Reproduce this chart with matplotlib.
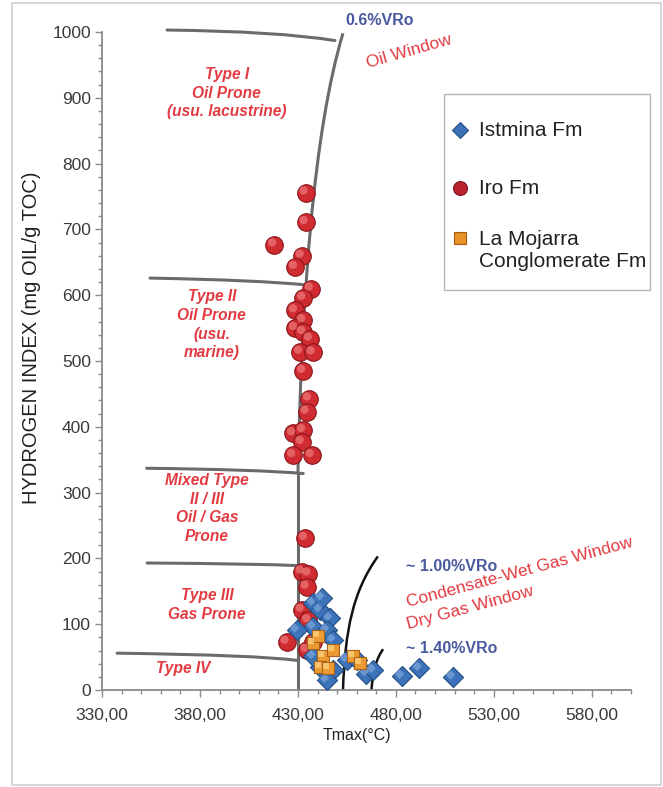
import matplotlib
matplotlib.use("Agg")
import matplotlib.pyplot as plt
from matplotlib.patches import Rectangle, PathPatch
from matplotlib.path import Path
from matplotlib.lines import Line2D
from matplotlib.ticker import MultipleLocator, FixedLocator, FixedFormatter
import matplotlib.transforms as mtransforms

plt.rcParams['font.family'] = ['Liberation Sans', 'DejaVu Sans']

# ---------------- data ----------------
iro_tmax = [433.9, 433.9, 417.9, 431.9, 428.5, 436.6, 432.7, 428.5, 432.7, 428.5,
            432.7, 436.1, 431.1, 437.5, 432.7, 435.6, 434.4, 427.6, 432.7, 431.9,
            427.6, 437.0, 433.6, 431.9, 435.3, 434.4, 431.9, 435.3, 424.2, 434.4,
            437.7, 441.2]
iro_hi = [756, 711, 677, 660, 643, 610, 596, 577, 562, 550,
          544, 534, 514, 513, 485, 443, 423, 390, 395, 377,
          357, 357, 231, 180, 177, 157, 122, 106, 73, 61,
          73, 46]

istmina_tmax = [437.8, 441.2, 442.2, 446.3, 437.7, 444.6, 429.3, 447.9, 441.2, 447.9,
                454.8, 459.9, 465.0, 468.4, 444.6, 437.7, 482.9, 491.9, 508.9]
istmina_hi = [132, 122, 140, 109, 96, 91, 91, 76, 35, 30,
              46, 46, 25, 30, 15, 51, 21, 33, 20]

mojarra_tmax = [437.7, 442.8, 441.2, 447.9, 458.1, 461.6, 440.2, 445.3]
mojarra_hi = [71, 51, 35, 61, 51, 41, 82, 33]

# kerogen type boundaries: (start, control, end) as (Tmax, HI)
top_line = [(363.2, 1003), (420, 1001), (448.9, 987)]
b12_line = [(354.5, 626), (410, 623), (434.4, 615.5)]
b2m_line = [(352.8, 337), (410, 335), (432.7, 329)]
bm3_line = [(353.0, 193), (410, 192), (430.0, 189)]
b34_line = [(337.7, 56), (410, 53), (429.5, 45)]

# 0.6 %VRo (oil window) line: straight base then cubic curve
ow_base = [(430, 0), (430, 330)]
ow_curve = [(430, 330), (432, 600), (438, 850), (453, 998)]

# ~1.00 %VRo and ~1.40 %VRo lines (cubic)
v100_curve = [(453, 0), (454, 90), (458, 150), (470.8, 203)]
v140_curve = [(467.5, 0), (468.5, 30), (470, 48), (473.5, 62)]

xticks = [330, 380, 430, 480, 530, 580]
xtick_labels = ["330,00", "380,00", "430,00", "480,00", "530,00", "580,00"]
yticks = [0, 100, 200, 300, 400, 500, 600, 700, 800, 900, 1000]

legend_labels = ['Istmina Fm', 'Iro Fm', 'La Mojarra\nConglomerate Fm']

# ---------------- figure ----------------
W, H = 663, 787
fig = plt.figure(figsize=(W/100, H/100), dpi=100)
ax = fig.add_axes([102/W, 1-690/H, (631-102)/W, (690-32)/H])
ax.set_xlim(330, 600)
ax.set_ylim(0, 1000)

for s in ['top', 'right']:
    ax.spines[s].set_visible(False)
for s in ['left', 'bottom']:
    ax.spines[s].set_color('#8a8a8a')
    ax.spines[s].set_linewidth(1.3)

ax.xaxis.set_major_locator(FixedLocator(xticks))
ax.xaxis.set_major_formatter(FixedFormatter(xtick_labels))
ax.xaxis.set_minor_locator(MultipleLocator(10))
ax.yaxis.set_major_locator(FixedLocator(yticks))
ax.yaxis.set_minor_locator(MultipleLocator(20))
ax.tick_params(which='both', colors='#8a8a8a', labelcolor='#3a3a3a', labelsize=12.5, width=1)
ax.tick_params(which='major', length=5)
ax.tick_params(which='minor', length=3)
ax.tick_params(axis='y', pad=3)
ax.tick_params(axis='x', pad=8)

ax.set_ylabel('HYDROGEN INDEX (mg OIL/g TOC)', fontsize=14.5, color='#222222')
ax.yaxis.set_label_coords(-0.115, 0.535)
ax.set_xlabel('Tmax(°C)', fontsize=11.5, color='#222222')
ax.xaxis.set_label_coords(0.482, -0.058)


def draw_path(pts, kind, **kw):
    if kind == 'line':
        codes = [Path.MOVETO] + [Path.LINETO] * (len(pts) - 1)
    elif kind == 'quad':
        codes = [Path.MOVETO, Path.CURVE3, Path.CURVE3]
    else:
        codes = [Path.MOVETO, Path.CURVE4, Path.CURVE4, Path.CURVE4]
    patch = PathPatch(Path(pts, codes), fill=False, transform=ax.transData,
                      clip_on=False, **kw)
    ax.add_patch(patch)
    return patch


gray = '#6b6b6b'
for ln in [top_line, b12_line, b2m_line, bm3_line, b34_line]:
    draw_path(ln, 'quad', edgecolor=gray, lw=2.2, capstyle='round', zorder=2)
draw_path(ow_base, 'line', edgecolor=gray, lw=2.2, zorder=2)
draw_path(ow_curve, 'cubic', edgecolor=gray, lw=2.2, zorder=2)
draw_path(v100_curve, 'cubic', edgecolor='#111111', lw=1.8, zorder=2)
draw_path(v140_curve, 'cubic', edgecolor='#111111', lw=1.8, zorder=2)

# markers with small highlight for a 3D look
hl = mtransforms.offset_copy(ax.transData, fig=fig, x=-1.5, y=1.5, units='points')
ax.scatter(istmina_tmax, istmina_hi, marker='D', s=105, color='#3c72b8',
           edgecolor='#234f85', linewidth=0.8, zorder=4)
ax.scatter(istmina_tmax, istmina_hi, marker='D', s=24, color='#7ea6dc',
           edgecolor='none', alpha=0.7, zorder=4.1, transform=hl)
ax.scatter(mojarra_tmax, mojarra_hi, marker='s', s=85, color='#ec9a32',
           edgecolor='#a8601a', linewidth=0.8, zorder=5)
ax.scatter(mojarra_tmax, mojarra_hi, marker='s', s=18, color='#f8cf7a',
           edgecolor='none', alpha=0.8, zorder=5.1, transform=hl)
ax.scatter(iro_tmax, iro_hi, marker='o', s=160, color='#cf2b31',
           edgecolor='#8a161b', linewidth=0.8, zorder=3)
ax.scatter(iro_tmax, iro_hi, marker='o', s=36, color='#ee7a7a',
           edgecolor='none', alpha=0.7, zorder=3.1, transform=hl)

# annotations
red = '#e23b42'
blue = '#4a5a9e'
tkw = dict(color=red, fontsize=11.2, fontweight='bold', fontstyle='italic',
           ha='center', va='center', linespacing=1.3)
ax.text(393.7, 907, 'Type I\nOil Prone\n(usu. lacustrine)', **tkw)
ax.text(386, 555, 'Type II\nOil Prone\n(usu.\nmarine)', **tkw)
ax.text(383.6, 276, 'Mixed Type\nII / III\nOil / Gas\nProne', **tkw)
ax.text(383.6, 129, 'Type III\nGas Prone', **tkw)
ax.text(371.5, 33, 'Type IV', **tkw)

ax.text(471.8, 1018, '0.6%VRo', color=blue, fontsize=11.5, fontweight='bold',
        ha='center', va='center', clip_on=False)
ax.text(486.6, 970, 'Oil Window', color=red, fontsize=12.5, rotation=16,
        ha='center', va='center', rotation_mode='anchor')
ax.text(485.2, 187, '~ 1.00%VRo', color=blue, fontsize=11.5, fontweight='bold',
        ha='left', va='center')
ax.text(543.3, 178, 'Condensate-Wet Gas Window', color=red, fontsize=12.5, rotation=15,
        ha='center', va='center', rotation_mode='anchor')
ax.text(518, 125, 'Dry Gas Window', color=red, fontsize=12.5, rotation=15,
        ha='center', va='center', rotation_mode='anchor')
ax.text(485.2, 63, '~ 1.40%VRo', color=blue, fontsize=11.5, fontweight='bold',
        ha='left', va='center')


# ---------------- legend (manual box) ----------------
def fx(x):
    return x / W


def fy(y):
    return 1 - y / H


fig.patches.append(Rectangle((fx(444), fy(290)), fx(650) - fx(444), fy(94) - fy(290),
                             transform=fig.transFigure, fill=True, facecolor='white',
                             edgecolor='#b5b5b5', linewidth=1.0, zorder=6))
leg_markers = [
    dict(marker='D', markersize=8.5, markerfacecolor='#3c72b8', markeredgecolor='#234f85'),
    dict(marker='o', markersize=10, markerfacecolor='#b8232c', markeredgecolor='#7a1418'),
    dict(marker='s', markersize=8.5, markerfacecolor='#e8902a', markeredgecolor='#a55a10'),
]
leg_marker_y = [130, 188, 238]
leg_text_y = [130, 188, 250.5]
for mk, my, ty, lab in zip(leg_markers, leg_marker_y, leg_text_y, legend_labels):
    fig.add_artist(Line2D([fx(460)], [fy(my)], transform=fig.transFigure, ls='none',
                          markeredgewidth=0.8, zorder=7, **mk))
    fig.text(fx(479), fy(ty), lab, fontsize=15, color='#222222', ha='left', va='center',
             linespacing=1.15, zorder=7)

# outer frame
fig.patches.append(Rectangle((12/W, 1-785/H), (661-12)/W, (785-3)/H,
                             transform=fig.transFigure, fill=False,
                             edgecolor='#cfcfcf', linewidth=1.2))

fig.savefig('out.png', dpi=100)
